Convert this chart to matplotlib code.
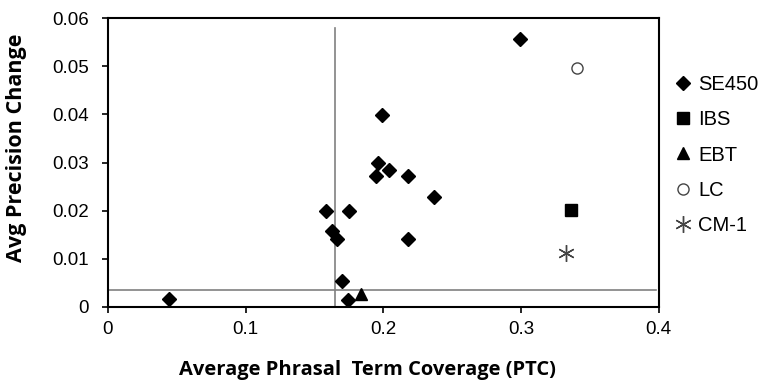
import numpy as np
import matplotlib.pyplot as plt

# SE450 points
se450_x = [0.044, 0.158, 0.175, 0.163, 0.166, 0.170, 0.174, 0.199, 0.196, 0.195, 0.204, 0.299, 0.218, 0.237, 0.218]
se450_y = [0.0016, 0.0200, 0.0200, 0.0158, 0.0142, 0.0055, 0.0015, 0.0398, 0.0300, 0.0272, 0.0284, 0.0556, 0.0272, 0.0228, 0.0141]

ibs_x = [0.336]
ibs_y = [0.0201]
ebt_x = [0.184]
ebt_y = [0.0026]
lc_x = [0.341]
lc_y = [0.0496]
cm1_x = [0.333]
cm1_y = [0.0113]

# reference lines
ptc_cut = 0.165
prec_cut = 0.0035

plt.rcParams['font.family'] = ['Liberation Sans', 'DejaVu Sans']

fig = plt.figure(figsize=(7.67, 3.86), dpi=100)
ax = fig.add_axes([0.1408, 0.2047, 0.718, 0.7483])

ax.plot([ptc_cut, ptc_cut], [0, 0.058], color='#808080', lw=1.2, zorder=1)
ax.plot([0, 0.398], [prec_cut, prec_cut], color='#808080', lw=1.2, zorder=1)

ax.plot(se450_x, se450_y, 'D', color='black', ms=7.5, ls='none', label='SE450')
ax.plot(ibs_x, ibs_y, 's', color='black', ms=8, ls='none', label='IBS')
ax.plot(ebt_x, ebt_y, '^', color='black', ms=8.5, ls='none', label='EBT')
ax.plot(lc_x, lc_y, 'o', mfc='white', mec='#444444', mew=1, ms=8, ls='none', label='LC')
ax.plot(cm1_x, cm1_y, marker=(6, 2, 0), color='#444444', mew=1, ms=12, ls='none', label='CM-1')

ax.set_xlim(0, 0.4)
ax.set_ylim(0, 0.06)
ax.set_xticks(np.arange(0, 0.41, 0.1))
ax.set_xticklabels(['0', '0.1', '0.2', '0.3', '0.4'])
ax.set_yticks(np.arange(0, 0.061, 0.01))
ax.set_yticklabels(['0', '0.01', '0.02', '0.03', '0.04', '0.05', '0.06'])
ax.tick_params(labelsize=13.5, direction='out', length=4, width=1.2)
ax.tick_params(axis='y', pad=10)
ax.tick_params(axis='x', pad=6)
for s in ax.spines.values():
    s.set_linewidth(1.5)

ax.set_xlabel('Average Phrasal  Term Coverage (PTC)', fontsize=14.5, fontweight='bold',
              family=['Open Sans', 'DejaVu Sans'])
ax.set_ylabel('Avg Precision Change', fontsize=15.5, fontweight='bold',
              family=['Open Sans', 'DejaVu Sans'])
ax.xaxis.set_label_coords(0.472, -0.185)
ax.yaxis.set_label_coords(-0.147, 0.55)

ax.legend(loc='upper left', bbox_to_anchor=(1.011, 0.83), frameon=False, fontsize=14.5,
          labelspacing=0.8, handletextpad=0.25, handlelength=1.0, borderaxespad=0,
          markerscale=1.0)

fig.savefig('out.png', dpi=100)
